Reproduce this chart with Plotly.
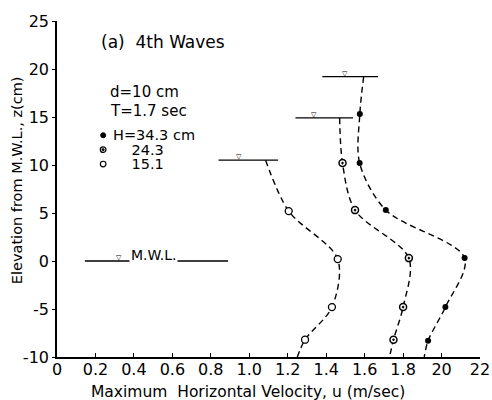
import plotly.graph_objects as go

# Measured maximum horizontal velocity profiles (u in m/s, z in cm) for three wave heights
wave_heights = ["H=34.3 cm", "24.3", "15.1"]

z_h343 = [15.3, 10.2, 5.3, 0.3, -4.8, -8.3]
u_h343 = [1.575, 1.574, 1.71, 2.12, 2.02, 1.93]

z_h243 = [10.2, 5.3, 0.3, -4.8, -8.2]
u_h243 = [1.485, 1.55, 1.83, 1.80, 1.75]

z_h151 = [5.2, 0.2, -4.8, -8.2]
u_h151 = [1.205, 1.46, 1.43, 1.29]

# Crest elevation of each wave and the MWL line (last entry)
crest_z = [19.2, 14.9, 10.5, 0.0]
crest_u_left = [1.38, 1.24, 0.84, 0.145]
crest_u_right = [1.67, 1.54, 1.15, 0.89]
crest_mark_u = [1.50, 1.335, 0.945, 0.32]

# Where each fitted profile meets the crest line and the bed (z = -10)
curve_top_u = [1.595, 1.47, 1.085]
curve_bed_u = [1.91, 1.73, 1.25]
bed_z = -10

x_tickvals = [0, 0.2, 0.4, 0.6, 0.8, 1.0, 1.2, 1.4, 1.6, 1.8, 2.0, 2.2]
x_ticktext = ["0", "0.2", "0.4", "0.6", "0.8", "1.0", "1.2", "1.4", "1.6", "1.8", "20", "22"]
y_tickvals = [-10, -5, 0, 5, 10, 15, 20, 25]
y_ticktext = ["-10", "-5", "0", "5", "10", "15", "20", "25"]

FONT = "DejaVu Sans"
INK = "black"

fig = go.Figure()

profiles = [
    (u_h343, z_h343, dict(symbol="circle", size=6, color=INK, line=dict(width=0, color=INK))),
    (u_h243, z_h243, dict(symbol="circle-dot", size=7, color="white", line=dict(width=1.5, color=INK))),
    (u_h151, z_h151, dict(symbol="circle", size=7, color="white", line=dict(width=1.3, color=INK))),
]

for i, (u, z, mk) in enumerate(profiles):
    cu = [curve_top_u[i]] + u + [curve_bed_u[i]]
    cz = [crest_z[i]] + z + [bed_z]
    fig.add_trace(go.Scatter(
        x=cu, y=cz, mode="lines",
        line=dict(color=INK, width=1.4, dash="6px,4px", shape="spline", smoothing=0.9),
        showlegend=False, hoverinfo="skip",
    ))
    fig.add_trace(go.Scatter(
        x=u, y=z, mode="markers", marker=mk, name=wave_heights[i], showlegend=False,
    ))

# Crest lines and still-water line
for i in range(len(crest_z)):
    fig.add_trace(go.Scatter(
        x=[crest_u_left[i], crest_u_right[i]], y=[crest_z[i], crest_z[i]],
        mode="lines", line=dict(color=INK, width=1.3), showlegend=False, hoverinfo="skip",
    ))
    fig.add_annotation(
        x=crest_mark_u[i], y=crest_z[i], text="▽", showarrow=False,
        yanchor="middle", yshift=3, font=dict(family=FONT, size=7, color=INK),
    )

fig.add_annotation(
    x=0.50, y=0, text="M.W.L.", showarrow=False, yanchor="bottom", yshift=-4,
    bgcolor="white", borderpad=1, font=dict(family=FONT, size=14, color=INK),
)

# Figure caption and test conditions
text_font = dict(family=FONT, size=15, color=INK)
fig.add_annotation(x=0.22, y=22.8, text="(a)  4th Waves", showarrow=False,
                   xanchor="left", yanchor="middle", font=dict(family=FONT, size=17, color=INK))
fig.add_annotation(x=0.265, y=17.6, text="d=10 cm", showarrow=False,
                   xanchor="left", yanchor="middle", font=text_font)
fig.add_annotation(x=0.265, y=15.6, text="T=1.7 sec", showarrow=False,
                   xanchor="left", yanchor="middle", font=text_font)

# Wave-height key: one text block with a small base size so the lines sit close,
# each line drawn at full size
pad = "\u00a0" * 4
key_lines = [wave_heights[0], pad + wave_heights[1], pad + wave_heights[2]]
key_text = "<br>".join('<span style="font-size:14.5px">%s</span>' % s for s in key_lines)
fig.add_annotation(x=0.283, y=11.6, text=key_text, showarrow=False, align="left",
                   xanchor="left", yanchor="middle", font=dict(family=FONT, size=11.2, color=INK))

# Key symbols beside the wave heights
key_u = 0.24
key_z = [13.1, 11.6, 10.1]
fig.add_shape(type="circle", xref="x", yref="y", xsizemode="pixel", ysizemode="pixel",
              xanchor=key_u, yanchor=key_z[0], x0=-2.5, x1=2.5, y0=-2.5, y1=2.5,
              fillcolor=INK, line=dict(color=INK, width=1))
fig.add_shape(type="circle", xref="x", yref="y", xsizemode="pixel", ysizemode="pixel",
              xanchor=key_u, yanchor=key_z[1], x0=-2.8, x1=2.8, y0=-2.8, y1=2.8,
              fillcolor="white", line=dict(color=INK, width=1.3))
fig.add_shape(type="circle", xref="x", yref="y", xsizemode="pixel", ysizemode="pixel",
              xanchor=key_u, yanchor=key_z[1], x0=-1.2, x1=1.2, y0=-1.2, y1=1.2,
              fillcolor=INK, line=dict(color=INK, width=0.5))
fig.add_shape(type="circle", xref="x", yref="y", xsizemode="pixel", ysizemode="pixel",
              xanchor=key_u, yanchor=key_z[2], x0=-2.8, x1=2.8, y0=-2.8, y1=2.8,
              fillcolor="white", line=dict(color=INK, width=1.2))

# Axis titles, placed as free text
fig.add_annotation(x=0.4515, y=-0.104, xref="paper", yref="paper",
                   text="Maximum  Horizontal Velocity, u (m/sec)", showarrow=False,
                   xanchor="center", yanchor="middle", borderpad=0,
                   font=dict(family=FONT, size=15.5, color=INK))
fig.add_annotation(x=-0.094, y=0.527, xref="paper", yref="paper",
                   text="Elevation from M.W.L., z(cm)", showarrow=False, textangle=-90,
                   xanchor="center", yanchor="middle",
                   font=dict(family=FONT, size=14.5, color=INK))

fig.update_layout(
    width=492, height=400,
    margin=dict(l=57, r=12, t=21, b=43),
    paper_bgcolor="white", plot_bgcolor="white",
    font=dict(family=FONT, size=15, color=INK),
    showlegend=False,
    xaxis=dict(
        range=[0, 2.2], tickvals=x_tickvals, ticktext=x_ticktext, automargin=False,
        showline=True, linecolor=INK, linewidth=1.6, showgrid=False, zeroline=False,
        ticks="inside", ticklen=4, tickcolor=INK, ticklabelstandoff=-3,
        tickfont=dict(family=FONT, size=16, color=INK),
    ),
    yaxis=dict(
        range=[-10, 25], tickvals=y_tickvals, ticktext=y_ticktext, automargin=False,
        showline=True, linecolor=INK, linewidth=1.6, showgrid=False, zeroline=False,
        ticks="outside", ticklen=3, tickcolor=INK,
        tickfont=dict(family=FONT, size=16, color=INK),
    ),
)

fig.write_html("out.html")
